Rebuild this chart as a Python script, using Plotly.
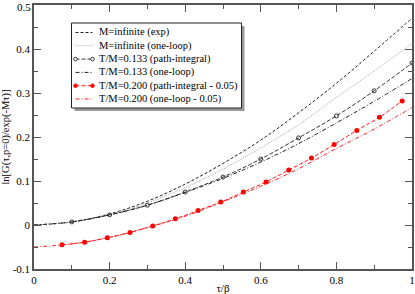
import plotly.graph_objects as go

# M = infinite curves
x_curve = [0.0, 0.1, 0.2, 0.3, 0.4, 0.5, 0.6, 0.7, 0.8, 0.9, 1.0]
y_inf_exp = [0.0, 0.007, 0.025, 0.054, 0.093, 0.140, 0.193, 0.255, 0.322, 0.395, 0.470]
y_inf_oneloop = [0.0, 0.007, 0.024, 0.050, 0.085, 0.127, 0.175, 0.228, 0.290, 0.350, 0.413]

# T/M = 0.133
x_pi133 = [0.1, 0.2, 0.3, 0.4, 0.5, 0.6, 0.7, 0.8, 0.9, 1.0]
y_pi133 = [0.007, 0.023, 0.045, 0.075, 0.109, 0.150, 0.198, 0.248, 0.305, 0.368]
y_ol133 = [0.0, 0.007, 0.023, 0.045, 0.074, 0.106, 0.143, 0.185, 0.232, 0.281, 0.333]

# T/M = 0.200 (shifted by -0.05)
x_pi200 = [0.074, 0.134, 0.194, 0.254, 0.314, 0.374, 0.434, 0.494,
           0.554, 0.614, 0.674, 0.734, 0.794, 0.854, 0.914, 0.974]
y_pi200 = [-0.045, -0.039, -0.029, -0.017, -0.002, 0.014, 0.033, 0.052,
           0.075, 0.098, 0.125, 0.152, 0.183, 0.215, 0.245, 0.282]
y_ol200 = [-0.050, -0.043, -0.028, -0.006, 0.020, 0.053, 0.088, 0.128, 0.174, 0.218, 0.267]

x_ticks = [0, 0.2, 0.4, 0.6, 0.8, 1]
x_tick_labels = ["0", "0.2", "0.4", "0.6", "0.8", "1"]
y_ticks = [-0.1, 0, 0.1, 0.2, 0.3, 0.4, 0.5]
y_tick_labels = ["-0.1", "0", "0.1", "0.2", "0.3", "0.4", "0.5"]

legend_names = ["M=infinite (exp)", "M=infinite (one-loop)", "T/M=0.133 (path-integral)",
                "T/M=0.133 (one-loop)", "T/M=0.200 (path-integral - 0.05)", "T/M=0.200 (one-loop - 0.05)"]

SERIF = "Liberation Serif, Times New Roman, serif"

styles = [
    dict(color="#222222", dash="3px,2px", marker=None),
    dict(color="#a8a8a8", dash="1px,1px", marker=None),
    dict(color="#333333", dash="4px,2px", marker="open"),
    dict(color="#222222", dash="4px,2px,1px,2px", marker=None),
    dict(color="#ff2020", dash="4px,2px", marker="filled"),
    dict(color="#ff2020", dash="4px,2px,1px,2px", marker=None),
]

fig = go.Figure()
series = [(x_curve, y_inf_exp), (x_curve, y_inf_oneloop), (x_pi133, y_pi133),
          (x_curve, y_ol133), (x_pi200, y_pi200), (x_curve, y_ol200)]
for (xs, ys), name, st in zip(series, legend_names, styles):
    if st["marker"] == "open":
        mk = dict(symbol="circle-open", size=4, color=st["color"], line=dict(width=1))
        mode = "lines+markers"
    elif st["marker"] == "filled":
        mk = dict(symbol="circle", size=5, color="#ff0000")
        mode = "lines+markers"
    else:
        mk = None
        mode = "lines"
    fig.add_trace(go.Scatter(x=xs, y=ys, mode=mode, name=name, showlegend=False,
                             line=dict(color=st["color"], width=1, dash=st["dash"], shape="spline"),
                             marker=mk))

# ---- manual legend (pixel layout converted to paper coords) ----
L, R, T, B = 34, 412, 5, 269
def px(xp):
    return (xp - L) / (R - L)
def py(yp):
    return (B - yp) / (B - T)

shapes = []
annotations = []
bx0, bx1, by0, by1 = 71.5, 241.5, 23, 108
# shadow
shapes.append(dict(type="rect", xref="paper", yref="paper", x0=px(bx0 + 3), x1=px(bx1 + 3),
                   y0=py(by0 + 3), y1=py(by1 + 3), fillcolor="#9a9a9a", line=dict(width=0), layer="above"))
shapes.append(dict(type="rect", xref="paper", yref="paper", x0=px(bx0), x1=px(bx1),
                   y0=py(by0), y1=py(by1), fillcolor="white", line=dict(color="#222222", width=1), layer="above"))
row0, dy = 32.5, 13.3
sx0, sx1, tx = 75.5, 92.5, 97
for i, (name, st) in enumerate(zip(legend_names, styles)):
    yy = row0 + i * dy
    shapes.append(dict(type="line", xref="paper", yref="paper", x0=px(sx0), x1=px(sx1),
                       y0=py(yy), y1=py(yy), line=dict(color=st["color"], width=1, dash=st["dash"]),
                       layer="above"))
    if st["marker"] is not None:
        for mx in (sx0, sx1):
            r = 1.8
            shapes.append(dict(type="circle", xref="paper", yref="paper",
                               xsizemode="pixel", ysizemode="pixel",
                               xanchor=px(mx), yanchor=py(yy), x0=-r, x1=r, y0=-r, y1=r,
                               fillcolor="white" if st["marker"] == "open" else "#ff0000",
                               line=dict(color=st["color"] if st["marker"] == "open" else "#ff0000", width=1),
                               layer="above"))
    annotations.append(dict(xref="paper", yref="paper", x=px(tx), y=py(yy), text=name,
                            showarrow=False, xanchor="left", yanchor="middle",
                            font=dict(family=SERIF, size=10.5, color="black")))

# top y tick label placed at the top of the y scale
annotations.append(dict(xref="paper", yref="paper", x=0, y=1, text=y_tick_labels[-1],
                        showarrow=False, xanchor="right", yanchor="top", xshift=-2, yshift=5,
                        borderpad=0,
                        font=dict(family=SERIF, size=11, color="black")))
shown_y_labels = y_tick_labels[:-1] + [""]

axis_common = dict(
    showgrid=False, zeroline=False, showline=True, linecolor="#555555", linewidth=1.5,
    mirror="ticks", ticks="inside", ticklen=7, tickwidth=1, tickcolor="#555555",
    tickfont=dict(family=SERIF, size=11, color="black"),
)

fig.update_layout(
    width=415, height=294,
    margin=dict(l=L, r=415 - R, t=T, b=294 - B, autoexpand=False),
    paper_bgcolor="white", plot_bgcolor="white",
    font=dict(family=SERIF, size=11, color="black"),
    showlegend=False,
    shapes=shapes,
    annotations=annotations,
    xaxis=dict(range=[0, 1], tickvals=x_ticks, ticktext=x_tick_labels,
               minor=dict(dtick=0.1, ticks="inside", ticklen=4, tickcolor="#555555"),
               title=dict(text="τ/β", font=dict(family=SERIF, size=11), standoff=2),
               automargin=False, **axis_common),
    yaxis=dict(range=[-0.1, 0.5], tickvals=y_ticks, ticktext=shown_y_labels,
               minor=dict(dtick=0.05, ticks="inside", ticklen=4, tickcolor="#555555"),
               title=dict(text="ln[G(τ,p=0)/exp(-Mτ)]", font=dict(family=SERIF, size=10.5), standoff=4),
               automargin=False, **axis_common),
)

fig.write_html("out.html", config={"displayModeBar": False},
               post_script="document.body.style.margin='0';document.body.style.overflow='hidden';")
